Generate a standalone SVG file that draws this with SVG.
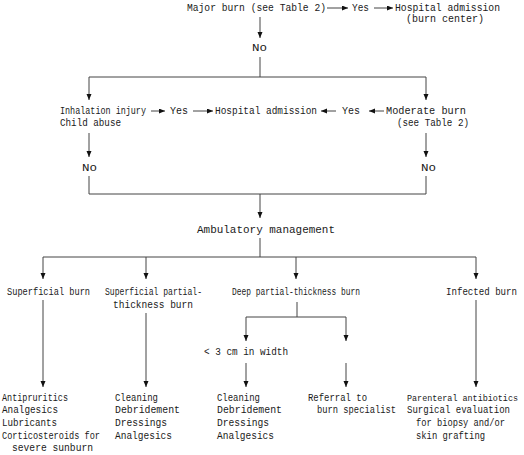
<svg xmlns="http://www.w3.org/2000/svg" width="524" height="455" viewBox="0 0 524 455">
<defs>
<marker id="ah" markerUnits="userSpaceOnUse" markerWidth="7" markerHeight="6" refX="6" refY="2.5" orient="auto">
<path d="M0,0 L6,2.5 L0,5 z" fill="#111"/>
</marker>
<style>
text{font-family:"Liberation Mono","DejaVu Sans Mono",monospace;font-size:10px;fill:#1a1a1a}
text.s{font-size:8.5px}
.c line,.c polyline{stroke:#444;stroke-width:1;fill:none}
.a{marker-end:url(#ah)}
</style>
</defs>
<rect width="524" height="455" fill="#fff"/>
<g class="c" id="connectors">
<line class="a" x1="327" y1="8" x2="348" y2="8"/>
<line class="a" x1="374" y1="8" x2="393" y2="8"/>
<line class="a" x1="260" y1="17" x2="260" y2="38"/>
<line x1="260" y1="57" x2="260" y2="77"/>
<line x1="89" y1="77" x2="426" y2="77"/>
<line class="a" x1="89" y1="77" x2="89" y2="100"/>
<line class="a" x1="426" y1="77" x2="426" y2="100"/>
<line class="a" x1="151" y1="111" x2="165" y2="111"/>
<line class="a" x1="193" y1="111" x2="213" y2="111"/>
<line class="a" x1="336" y1="111" x2="321" y2="111"/>
<line class="a" x1="384" y1="111" x2="369" y2="111"/>
<line class="a" x1="89" y1="133" x2="89" y2="157"/>
<line class="a" x1="426" y1="133" x2="426" y2="157"/>
<line x1="89" y1="176" x2="89" y2="194"/>
<line x1="426" y1="176" x2="426" y2="194"/>
<line x1="89" y1="194" x2="426" y2="194"/>
<line class="a" x1="260" y1="194" x2="260" y2="218"/>
<line x1="260" y1="238" x2="260" y2="257"/>
<line x1="43" y1="257" x2="476" y2="257"/>
<line class="a" x1="43" y1="257" x2="43" y2="279"/>
<line class="a" x1="146" y1="257" x2="146" y2="279"/>
<line class="a" x1="296" y1="257" x2="296" y2="279"/>
<line class="a" x1="476" y1="257" x2="476" y2="279"/>
<line class="a" x1="43" y1="300" x2="43" y2="387"/>
<line class="a" x1="146" y1="313" x2="146" y2="387"/>
<line class="a" x1="476" y1="300" x2="476" y2="387"/>
<line x1="297" y1="302" x2="297" y2="317"/>
<line x1="246" y1="317" x2="346" y2="317"/>
<line class="a" x1="246" y1="317" x2="246" y2="341"/>
<line class="a" x1="346" y1="317" x2="346" y2="341"/>
<line class="a" x1="246" y1="363" x2="246" y2="387"/>
<line class="a" x1="346" y1="363" x2="346" y2="387"/>
</g>
<g id="major-burn"><text x="187" y="11" textLength="139" lengthAdjust="spacingAndGlyphs">Major burn (see Table 2)</text></g>
<g id="yes-top"><text x="352" y="11" textLength="17" lengthAdjust="spacingAndGlyphs">Yes</text></g>
<g id="hospital-burn-center">
<text x="395" y="11" textLength="105" lengthAdjust="spacingAndGlyphs">Hospital admission</text>
<text x="406" y="22" textLength="78" lengthAdjust="spacingAndGlyphs">(burn center)</text>
</g>
<g id="no-top"><text x="252" y="51" textLength="15" lengthAdjust="spacingAndGlyphs">No</text></g>
<g id="inhalation">
<text x="60" y="114" textLength="86" lengthAdjust="spacingAndGlyphs">Inhalation injury</text>
<text x="60" y="126" textLength="61" lengthAdjust="spacingAndGlyphs">Child abuse</text>
</g>
<g id="yes-left"><text x="170" y="114" textLength="18" lengthAdjust="spacingAndGlyphs">Yes</text></g>
<g id="hospital"><text x="215" y="114" textLength="102" lengthAdjust="spacingAndGlyphs">Hospital admission</text></g>
<g id="yes-right"><text x="342" y="114" textLength="18" lengthAdjust="spacingAndGlyphs">Yes</text></g>
<g id="moderate">
<text x="386" y="114" textLength="80" lengthAdjust="spacingAndGlyphs">Moderate burn</text>
<text x="397" y="126" textLength="72" lengthAdjust="spacingAndGlyphs">(see Table 2)</text>
</g>
<g id="no-left"><text x="82" y="171" textLength="15" lengthAdjust="spacingAndGlyphs">No</text></g>
<g id="no-right"><text x="421" y="171" textLength="15" lengthAdjust="spacingAndGlyphs">No</text></g>
<g id="ambulatory"><text x="197" y="233" textLength="138" lengthAdjust="spacingAndGlyphs">Ambulatory management</text></g>
<g id="superficial"><text x="7" y="295" textLength="83" lengthAdjust="spacingAndGlyphs">Superficial burn</text></g>
<g id="superficial-partial">
<text x="105" y="295" textLength="97" lengthAdjust="spacingAndGlyphs">Superficial partial-</text>
<text x="113" y="308" textLength="80" lengthAdjust="spacingAndGlyphs">thickness burn</text>
</g>
<g id="deep-partial"><text x="232" y="295" textLength="128" lengthAdjust="spacingAndGlyphs">Deep partial-thickness burn</text></g>
<g id="infected"><text x="446" y="295" textLength="71" lengthAdjust="spacingAndGlyphs">Infected burn</text></g>
<g id="under-3cm"><text x="204" y="355" textLength="84" lengthAdjust="spacingAndGlyphs">&lt; 3 cm in width</text></g>
<g id="tx-superficial">
<text x="2" y="401" textLength="66" lengthAdjust="spacingAndGlyphs">Antipruritics</text>
<text x="2" y="413" textLength="56" lengthAdjust="spacingAndGlyphs">Analgesics</text>
<text x="2" y="426" textLength="55" lengthAdjust="spacingAndGlyphs">Lubricants</text>
<text x="2" y="439" textLength="98" lengthAdjust="spacingAndGlyphs">Corticosteroids for</text>
<text x="12" y="451" textLength="81" lengthAdjust="spacingAndGlyphs">severe sunburn</text>
</g>
<g id="tx-superficial-partial">
<text x="115" y="401" textLength="43" lengthAdjust="spacingAndGlyphs">Cleaning</text>
<text x="115" y="413" textLength="65" lengthAdjust="spacingAndGlyphs">Debridement</text>
<text x="115" y="426" textLength="52" lengthAdjust="spacingAndGlyphs">Dressings</text>
<text x="115" y="439" textLength="57" lengthAdjust="spacingAndGlyphs">Analgesics</text>
</g>
<g id="tx-deep-small">
<text x="217" y="401" textLength="43" lengthAdjust="spacingAndGlyphs">Cleaning</text>
<text x="217" y="413" textLength="65" lengthAdjust="spacingAndGlyphs">Debridement</text>
<text x="217" y="426" textLength="52" lengthAdjust="spacingAndGlyphs">Dressings</text>
<text x="217" y="439" textLength="57" lengthAdjust="spacingAndGlyphs">Analgesics</text>
</g>
<g id="tx-referral">
<text x="308" y="401" textLength="59" lengthAdjust="spacingAndGlyphs">Referral to</text>
<text x="317" y="413" textLength="79" lengthAdjust="spacingAndGlyphs">burn specialist</text>
</g>
<g id="tx-infected">
<text class="s" x="407" y="401" textLength="111" lengthAdjust="spacingAndGlyphs">Parenteral antibiotics</text>
<text x="407" y="413" textLength="103" lengthAdjust="spacingAndGlyphs">Surgical evaluation</text>
<text x="416" y="426" textLength="89" lengthAdjust="spacingAndGlyphs">for biopsy and/or</text>
<text x="416" y="439" textLength="69" lengthAdjust="spacingAndGlyphs">skin grafting</text>
</g>
</svg>
